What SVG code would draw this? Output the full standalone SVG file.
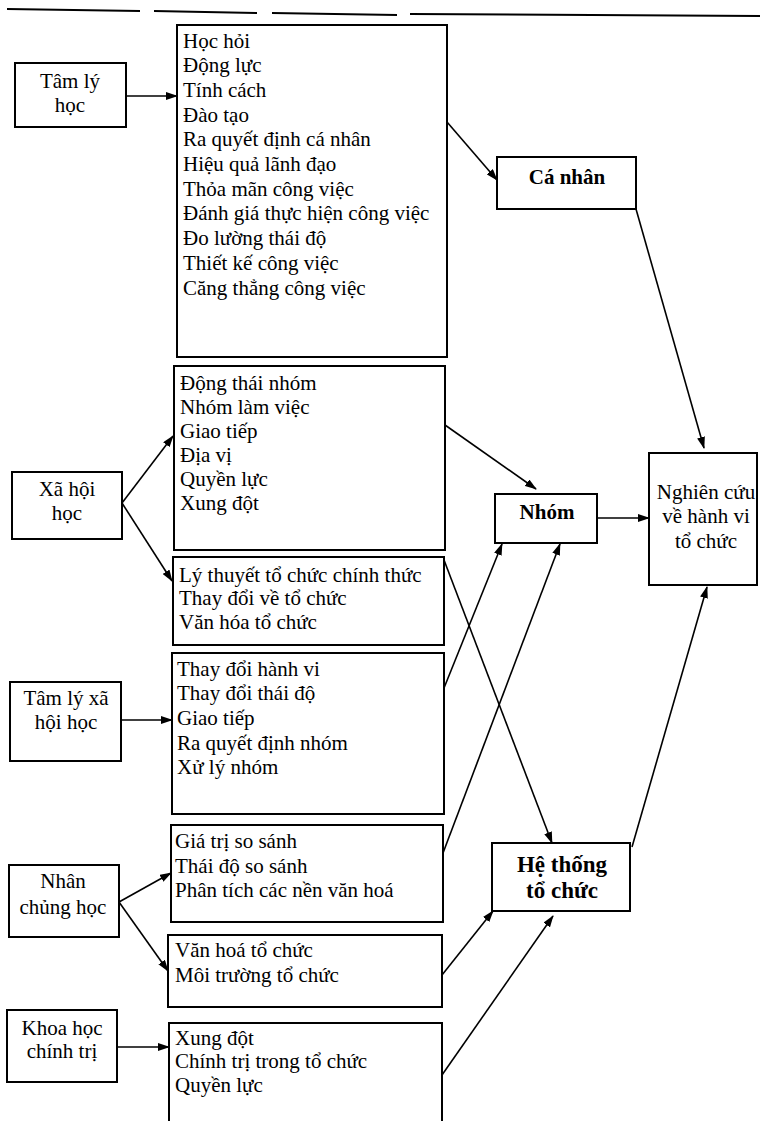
<svg xmlns="http://www.w3.org/2000/svg" width="760" height="1121" viewBox="0 0 760 1121">
  <style>
    .box { fill: #fff; stroke: #000; stroke-width: 2; }
    .t { font-family: "Liberation Serif", "Times New Roman", serif; font-size: 21px; fill: #000; }
    .c { text-anchor: middle; }
    .b { font-weight: bold; }
    .conn line { stroke: #000; stroke-width: 1.6; marker-end: url(#arr); }
    .rule { stroke: #000; stroke-width: 2; }
  </style>
  <defs>
    <marker id="arr" markerUnits="userSpaceOnUse" markerWidth="12" markerHeight="8" refX="11" refY="4" orient="auto">
      <path d="M0,0 L12,4 L0,8 z" fill="#000"/>
    </marker>
  </defs>
  <rect width="760" height="1121" fill="#fff"/>

  <!-- header rule, broken into segments -->
  <g id="header-rule">
    <line class="rule" x1="7" y1="9" x2="140" y2="11"/>
    <line class="rule" x1="154" y1="11" x2="257" y2="13"/>
    <line class="rule" x1="272" y1="13" x2="397" y2="15"/>
    <line class="rule" x1="410" y1="14" x2="760" y2="16"/>
  </g>

  <!-- source disciplines -->
  <g id="tam-ly-hoc">
    <rect class="box" x="15" y="63" width="111" height="64"/>
    <text class="t c" x="70" y="88">Tâm lý</text>
    <text class="t c" x="70" y="112">học</text>
  </g>
  <g id="xa-hoi-hoc">
    <rect class="box" x="12" y="472" width="110" height="67"/>
    <text class="t c" x="67" y="496">Xã hội</text>
    <text class="t c" x="67" y="520">học</text>
  </g>
  <g id="tam-ly-xa-hoi-hoc">
    <rect class="box" x="10" y="682" width="111" height="79"/>
    <text class="t c" x="66" y="705">Tâm lý xã</text>
    <text class="t c" x="66" y="729">hội học</text>
  </g>
  <g id="nhan-chung-hoc">
    <rect class="box" x="9" y="865" width="110" height="72"/>
    <text class="t c" x="63" y="888">Nhân</text>
    <text class="t c" x="63" y="914">chủng học</text>
  </g>
  <g id="khoa-hoc-chinh-tri">
    <rect class="box" x="7" y="1010" width="110" height="72"/>
    <text class="t c" x="62" y="1035">Khoa học</text>
    <text class="t c" x="62" y="1058">chính trị</text>
  </g>

  <!-- topic lists -->
  <g id="topics-psychology">
    <rect class="box" x="177" y="25" width="270" height="332"/>
    <text class="t" x="183" y="48">Học hỏi</text>
    <text class="t" x="183" y="72">Động lực</text>
    <text class="t" x="183" y="97">Tính cách</text>
    <text class="t" x="183" y="122">Đào tạo</text>
    <text class="t" x="183" y="146">Ra quyết định cá nhân</text>
    <text class="t" x="183" y="171">Hiệu quả lãnh đạo</text>
    <text class="t" x="183" y="196">Thỏa mãn công việc</text>
    <text class="t" x="183" y="220">Đánh giá thực hiện công việc</text>
    <text class="t" x="183" y="245">Đo lường thái độ</text>
    <text class="t" x="183" y="270">Thiết kế công việc</text>
    <text class="t" x="183" y="295">Căng thẳng công việc</text>
  </g>
  <g id="topics-sociology-group">
    <rect class="box" x="174" y="366" width="271" height="184"/>
    <text class="t" x="180" y="390">Động thái nhóm</text>
    <text class="t" x="180" y="414">Nhóm làm việc</text>
    <text class="t" x="180" y="438">Giao tiếp</text>
    <text class="t" x="180" y="462">Địa vị</text>
    <text class="t" x="180" y="486">Quyền lực</text>
    <text class="t" x="180" y="510">Xung đột</text>
  </g>
  <g id="topics-sociology-org">
    <rect class="box" x="173" y="557" width="271" height="88"/>
    <text class="t" x="179" y="582">Lý thuyết tổ chức chính thức</text>
    <text class="t" x="179" y="605">Thay đổi về tổ chức</text>
    <text class="t" x="179" y="629">Văn hóa tổ chức</text>
  </g>
  <g id="topics-social-psychology">
    <rect class="box" x="172" y="653" width="272" height="161"/>
    <text class="t" x="177" y="676">Thay đổi hành vi</text>
    <text class="t" x="177" y="700">Thay đổi thái độ</text>
    <text class="t" x="177" y="725">Giao tiếp</text>
    <text class="t" x="177" y="750">Ra quyết định nhóm</text>
    <text class="t" x="177" y="774">Xử lý nhóm</text>
  </g>
  <g id="topics-anthropology-group">
    <rect class="box" x="171" y="825" width="272" height="97"/>
    <text class="t" x="175" y="848">Giá trị so sánh</text>
    <text class="t" x="175" y="873">Thái độ so sánh</text>
    <text class="t" x="175" y="897">Phân tích các nền văn hoá</text>
  </g>
  <g id="topics-anthropology-org">
    <rect class="box" x="168" y="935" width="274" height="72"/>
    <text class="t" x="175" y="957">Văn hoá tổ chức</text>
    <text class="t" x="175" y="982">Môi trường tổ chức</text>
  </g>
  <g id="topics-political-science">
    <path class="box" d="M169,1122 V1023 H442 V1122"/>
    <text class="t" x="175" y="1045">Xung đột</text>
    <text class="t" x="175" y="1068">Chính trị trong tổ chức</text>
    <text class="t" x="175" y="1092">Quyền lực</text>
  </g>

  <!-- levels of analysis -->
  <g id="ca-nhan">
    <rect class="box" x="497" y="157" width="139" height="52"/>
    <text class="t c b" x="567" y="184">Cá nhân</text>
  </g>
  <g id="nhom">
    <rect class="box" x="495" y="494" width="102" height="49"/>
    <text class="t c b" x="547" y="519">Nhóm</text>
  </g>
  <g id="he-thong-to-chuc">
    <rect class="box" x="492" y="843" width="138" height="68"/>
    <text class="t c b" x="562" y="872" style="font-size:23px">Hệ thống</text>
    <text class="t c b" x="562" y="898" style="font-size:23px">tổ chức</text>
  </g>
  <g id="nghien-cuu">
    <rect class="box" x="649" y="453" width="108" height="132"/>
    <text class="t c" x="706" y="499">Nghiên cứu</text>
    <text class="t c" x="706" y="523">về hành vi</text>
    <text class="t c" x="706" y="548">tổ chức</text>
  </g>

  <!-- connectors -->
  <g id="connectors" class="conn">
    <line x1="126" y1="96" x2="177" y2="96"/>
    <line x1="122" y1="503" x2="173" y2="436"/>
    <line x1="122" y1="503" x2="172" y2="581"/>
    <line x1="121" y1="720" x2="172" y2="720"/>
    <line x1="119" y1="902" x2="171" y2="873"/>
    <line x1="119" y1="902" x2="168" y2="971"/>
    <line x1="117" y1="1047" x2="169" y2="1047"/>

    <line x1="447" y1="122" x2="497" y2="180"/>
    <line x1="445" y1="425" x2="536" y2="489"/>
    <line x1="444" y1="560" x2="552" y2="843"/>
    <line x1="444" y1="688" x2="502" y2="544"/>
    <line x1="443" y1="853" x2="560" y2="544"/>
    <line x1="442" y1="975" x2="493" y2="911"/>
    <line x1="442" y1="1075" x2="553" y2="916"/>

    <line x1="636" y1="209" x2="704" y2="448"/>
    <line x1="597" y1="518" x2="649" y2="518"/>
    <line x1="632" y1="847" x2="707" y2="587"/>
  </g>
</svg>
